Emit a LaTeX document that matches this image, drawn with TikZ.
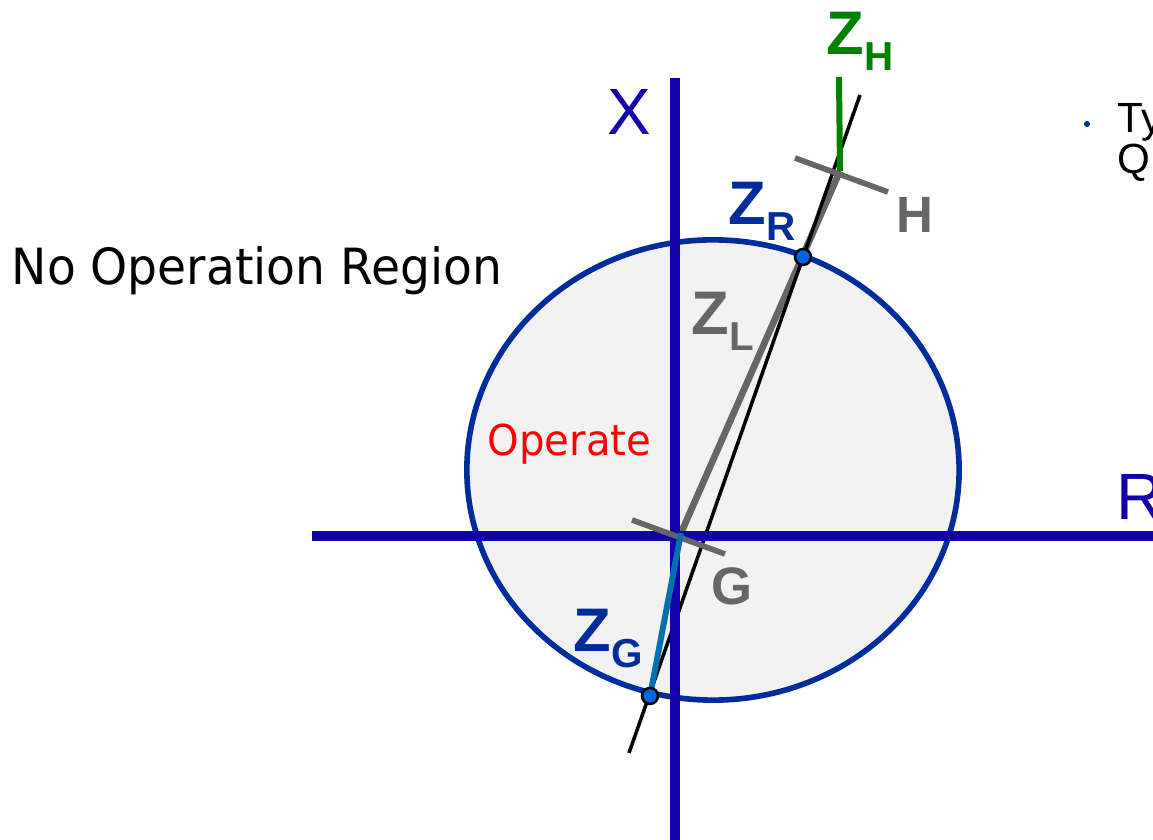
\documentclass[tikz,border=0pt]{standalone}
\usepackage{fontspec}
\setmainfont{Liberation Sans}
\newfontfamily\tahoma{DejaVu Sans}[FakeStretch=0.945]
\usepackage{tikz}

\definecolor{axisblue}{RGB}{18,0,168}
\definecolor{rimblue}{RGB}{0,45,155}
\definecolor{zgray}{RGB}{102,102,102}
\definecolor{zgreen}{RGB}{0,128,0}
\definecolor{zteal}{RGB}{0,112,176}
\definecolor{dotblue}{RGB}{0,102,221}
\definecolor{opfill}{RGB}{242,242,242}

\newcommand\zlbl[1]{{\fontsize{17.5}{18}\selectfont Z}\raisebox{-4.5pt}{\fontsize{11.5}{12}\selectfont #1}}

\begin{document}
\begin{tikzpicture}[
  x=0.01cm, y=-0.01cm,
  axisline/.style={draw=axisblue, line width=2.8pt},
  tickline/.style={draw=zgray, line width=1.6pt},
  zlab/.style={anchor=base west, inner sep=0pt, font=\bfseries},
  txt/.style={anchor=base west, inner sep=0pt},
  dot/.style={circle, fill=dotblue, draw=black, line width=0.7pt, minimum size=0.16cm, inner sep=0pt},
]
\fill[white] (0,0) rectangle (1153,840);
\useasboundingbox (0,0) rectangle (1153,840);

\coordinate (G) at (681,533);
\coordinate (H) at (840,171);
\coordinate (lo) at (629,753);
\coordinate (hi) at (860,95);
\coordinate (zrpt) at (803,257);
\coordinate (zgpt) at (650,696);
\coordinate (zhtop) at (839,77);
\coordinate (xtop) at (675,78);
\coordinate (xbot) at (675,840);
\coordinate (rleft) at (312,536);
\coordinate (rright) at (1153,536);
\coordinate (g1) at (632,520);
\coordinate (g2) at (725,554);
\coordinate (h1) at (795,158);
\coordinate (h2) at (888,192);

% operating region
\draw[fill=opfill, draw=rimblue, line width=1.6pt] (713,470) ellipse [x radius=2.46cm, y radius=2.3cm];

\draw[zgray, line width=1.9pt] (G) -- (H);
\draw[black, line width=1pt] (lo) -- (hi);
\draw[axisline] (rleft) -- (rright);
\draw[axisline] (xtop) -- (xbot);
\draw[tickline] (g1) -- (g2);
\draw[tickline] (h1) -- (h2);
\draw[zteal, line width=1.7pt] (G) -- (zgpt);
\draw[zgreen, line width=1.7pt] (zhtop) -- (H);
\node[dot] (zr) at (zrpt) {};
\node[dot] (zg) at (zgpt) {};

\node[zlab, text=rimblue] (lzr) at (728,225) {\zlbl{R}};
\node[zlab, text=zgray] (lzl) at (691,335) {\zlbl{L}};
\node[zlab, text=rimblue] (lzg) at (573,652) {\zlbl{G}};
\node[zlab, text=zgreen] (lzh) at (826,55) {\zlbl{H}};
\node[zlab, text=zgray, font=\bfseries\fontsize{14.5}{15}\selectfont] (lh) at (896,233) {H};
\node[zlab, text=zgray, font=\bfseries\fontsize{15}{16}\selectfont] (lg) at (711,605) {G};

\node[txt, text=axisblue, font=\fontsize{18.6}{19}\selectfont] (lx) at (607,135) {X};
\node[txt, text=axisblue, font=\fontsize{18.6}{19}\selectfont] (lr) at (1116,520) {R};
\node[txt, font=\tahoma\fontsize{14.2}{15}\selectfont] (noop) at (11,285) {No Operation Region};
\node[txt, text=red, font=\tahoma\fontsize{12.1}{13}\selectfont] (op) at (487,456) {Operate};

\node[circle, fill=rimblue, inner sep=0pt, minimum size=0.06cm] (bul) at (1087,124) {};
\node[txt, font=\fontsize{12}{12}\selectfont] (ty) at (1117,133) {Ty};
\node[txt, font=\fontsize{12}{12}\selectfont] (tq) at (1117,174) {Q};
\end{tikzpicture}
\end{document}
